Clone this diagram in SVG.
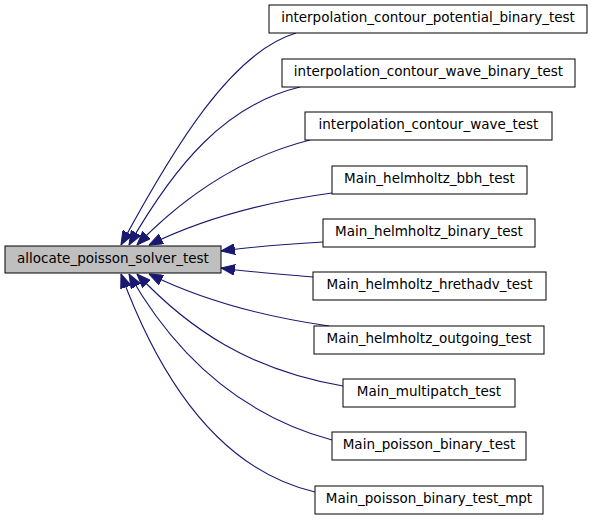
<svg xmlns="http://www.w3.org/2000/svg" width="595" height="520" viewBox="0 0 595 520">
<style>
.n rect{fill:#ffffff;stroke:#000000;stroke-width:1}
.m rect{fill:#bfbfbf;stroke:#000000;stroke-width:1}
text{font-family:"DejaVu Sans","Liberation Sans",sans-serif;font-size:13.5px;text-anchor:middle;fill:#000000}
.e path{fill:none;stroke:#191970;stroke-width:1.1;marker-end:url(#ah)}
</style>
<defs>
<marker id="ah" markerUnits="userSpaceOnUse" markerWidth="14" markerHeight="11" viewBox="0 0 13 10" refX="13" refY="5" orient="auto">
<path d="M0,0 L13,5 L0,10 z" fill="#191970" stroke="#191970"/>
</marker>
</defs>
<rect width="595" height="520" fill="#ffffff"/>
<g id="edges" class="e">
<path d="M296,33 C232,52 175,145 121,245"/>
<path d="M300,87 C225,105 175,165 129,245"/>
<path d="M310,140 C250,155 190,190 137,245"/>
<path d="M332,193 C280,200 210,215 149,245"/>
<path d="M323,242 C290,244 250,247 221,251"/>
<path d="M313,277 C290,275 250,272 221,268"/>
<path d="M329,326 C280,319 210,304 149,274"/>
<path d="M343,386 C250,370 190,330 137,274"/>
<path d="M332,440 C240,415 175,355 129,274"/>
<path d="M315,492 C220,470 160,380 121,274"/>
</g>
<g id="main" class="m"><rect x="5" y="246" width="216" height="27"/><text x="113" y="263">allocate_poisson_solver_test</text></g>
<g id="n1" class="n"><rect x="269" y="5" width="318" height="28"/><text x="428" y="22">interpolation_contour_potential_binary_test</text></g>
<g id="n2" class="n"><rect x="282" y="59" width="293" height="28"/><text x="428.5" y="76">interpolation_contour_wave_binary_test</text></g>
<g id="n3" class="n"><rect x="305" y="112" width="247" height="28"/><text x="428.5" y="129">interpolation_contour_wave_test</text></g>
<g id="n4" class="n"><rect x="332" y="166" width="195" height="28"/><text x="429.5" y="183">Main_helmholtz_bbh_test</text></g>
<g id="n5" class="n"><rect x="323" y="219" width="212" height="28"/><text x="429" y="236">Main_helmholtz_binary_test</text></g>
<g id="n6" class="n"><rect x="313" y="272" width="233" height="28"/><text x="429.5" y="289">Main_helmholtz_hrethadv_test</text></g>
<g id="n7" class="n"><rect x="314" y="326" width="230" height="28"/><text x="429" y="343">Main_helmholtz_outgoing_test</text></g>
<g id="n8" class="n"><rect x="343" y="379" width="172" height="28"/><text x="429" y="396">Main_multipatch_test</text></g>
<g id="n9" class="n"><rect x="332" y="432" width="194" height="28"/><text x="429" y="449">Main_poisson_binary_test</text></g>
<g id="n10" class="n"><rect x="315" y="486" width="228" height="28"/><text x="429" y="503">Main_poisson_binary_test_mpt</text></g>
</svg>
